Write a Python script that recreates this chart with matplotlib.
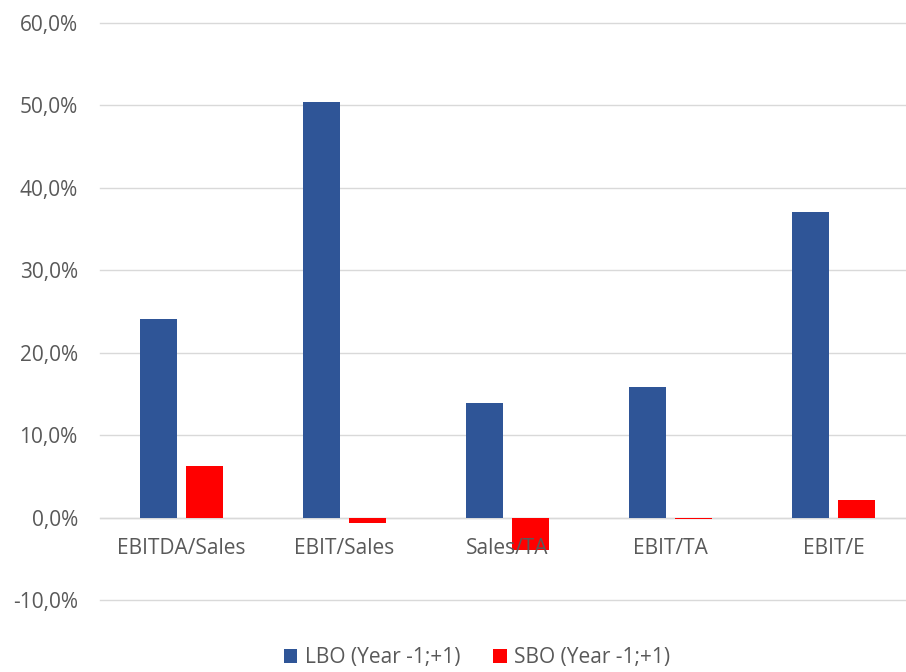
import matplotlib.pyplot as plt
import numpy as np
from matplotlib.ticker import FuncFormatter

categories = ["EBITDA/Sales", "EBIT/Sales", "Sales/TA", "EBIT/TA", "EBIT/E"]
lbo = [24.1, 50.4, 13.9, 15.8, 37.1]
sbo = [6.3, -0.6, -3.9, -0.2, 2.1]
labels = ["LBO (Year -1;+1)", "SBO (Year -1;+1)"]

plt.rcParams["font.family"] = ["Open Sans", "DejaVu Sans"]
txt = "#595959"
fs = 15

fig = plt.figure(figsize=(9.06, 6.72), dpi=100)
ax = fig.add_axes([100 / 906, 1 - 600 / 672, 806 / 906, 577 / 672])

x = np.arange(len(categories))
w = 0.227
off = 0.141
ax.bar(x - off, lbo, w, color="#2F5597", label=labels[0], zorder=2)
ax.bar(x + off, sbo, w, color="#FF0000", label=labels[1], zorder=2)

ax.set_ylim(-10, 60)
ax.set_xlim(-0.5, 4.5 - 9 / 163)
ax.set_yticks(range(-10, 61, 10))
ax.yaxis.set_major_formatter(FuncFormatter(lambda v, p: f"{v:.1f}%".replace(".", ",")))
ax.grid(axis="y", color="#D9D9D9", linewidth=1, zorder=0)
for gl in ax.get_ygridlines():
    gl.set_clip_on(False)
ax.axhline(0, color="#D9D9D9", linewidth=1, zorder=1)

for s in ax.spines.values():
    s.set_visible(False)
ax.tick_params(axis="both", length=0, labelsize=fs, colors=txt)
ax.tick_params(axis="y", pad=16)
ax.set_xticks([])
for i, c in enumerate(categories):
    ax.text(i, -3.7, c, ha="center", va="center", fontsize=fs, color=txt, zorder=3)

ax.legend(loc="center", bbox_to_anchor=(0.5 + (477 - 503) / 806, -0.1),
          ncol=2, frameon=False, fontsize=fs, labelcolor=txt,
          handlelength=0.65, handleheight=0.65, handletextpad=0.35, columnspacing=1.6)

fig.savefig("out.png", dpi=100)
